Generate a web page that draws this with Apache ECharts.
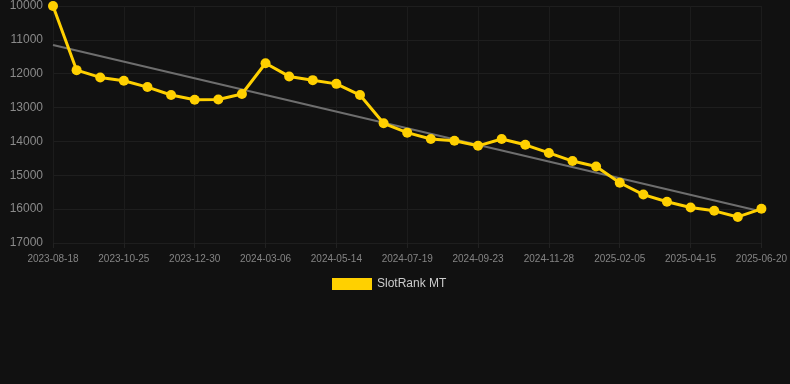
<!DOCTYPE html>
<html>
<head>
<meta charset="utf-8">
<script src="https://cdn.jsdelivr.net/npm/echarts@6/dist/echarts.min.js"></script>
<style>
html,body{margin:0;padding:0;background:#111111;}
#chart{width:790px;height:384px;}
</style>
</head>
<body>
<div id="chart"></div>
<script>
var categories = [
  "2023-08-18","2023-09-09","2023-10-02","2023-10-25","2023-11-16","2023-12-08",
  "2023-12-30","2024-01-21","2024-02-13","2024-03-06","2024-03-29","2024-04-21",
  "2024-05-14","2024-06-05","2024-06-27","2024-07-19","2024-08-10","2024-09-01",
  "2024-09-23","2024-10-15","2024-11-06","2024-11-28","2024-12-24","2025-01-15",
  "2025-02-05","2025-02-28","2025-03-23","2025-04-15","2025-05-07","2025-05-29",
  "2025-06-20"
];
var rankValues = [
  10000, 11895, 12110, 12210, 12395, 12630, 12770, 12760, 12600, 11690,
  12080, 12190, 12300, 12630, 13465, 13740, 13930, 13980, 14130, 13930,
  14100, 14340, 14580, 14740, 15220, 15570, 15780, 15950, 16050, 16230,
  15990
];
var seriesName = "SlotRank MT";
var yMin = 10000, yMax = 17000, yStep = 1000;

// least-squares trend line from the data
var n = rankValues.length, sx = 0, sy = 0, sxy = 0, sxx = 0;
for (var i = 0; i < n; i++) { sx += i; sy += rankValues[i]; sxy += i * rankValues[i]; sxx += i * i; }
var slope = (n * sxy - sx * sy) / (n * sxx - sx * sx);
var intercept = (sy - slope * sx) / n;
var trendData = [[0, intercept], [n - 1, intercept + slope * (n - 1)]];

var chart = echarts.init(document.getElementById('chart'), null, {renderer: 'canvas'});
chart.setOption({
  backgroundColor: '#111111',
  animation: false,
  textStyle: {fontFamily: 'Liberation Sans, Arial, sans-serif'},
  grid: {left: 53, right: 28, top: 6, bottom: 141, containLabel: false},
  legend: {
    data: [seriesName],
    top: 273,
    left: 327,
    itemWidth: 40,
    itemHeight: 12,
    icon: 'rect',
    textStyle: {color: '#cccccc', fontSize: 12}
  },
  xAxis: {
    type: 'category',
    data: categories,
    boundaryGap: false,
    axisLine: {show: false},
    axisTick: {show: true, interval: 2, length: 5, lineStyle: {color: '#222222'}},
    axisLabel: {interval: 2, color: '#858585', fontSize: 10, margin: 11},
    splitLine: {show: true, interval: 2, lineStyle: {color: '#1c1c1c', width: 1}}
  },
  yAxis: {
    type: 'value',
    inverse: true,
    min: yMin,
    max: yMax,
    interval: yStep,
    axisLine: {show: false},
    axisTick: {show: false},
    axisLabel: {color: '#8a8a8a', fontSize: 12, margin: 10, formatter: function (v) { return String(v); }},
    splitLine: {show: true, lineStyle: {color: '#1e1e1e', width: 1}}
  },
  series: [
    {
      name: 'trend',
      type: 'line',
      data: trendData,
      symbol: 'none',
      silent: true,
      lineStyle: {color: '#6e6e6e', width: 2},
      z: 1
    },
    {
      name: seriesName,
      type: 'line',
      data: rankValues,
      symbol: 'circle',
      symbolSize: 10,
      itemStyle: {color: '#FFD000'},
      lineStyle: {color: '#FFD000', width: 3},
      z: 2
    }
  ]
});
</script>
</body>
</html>
